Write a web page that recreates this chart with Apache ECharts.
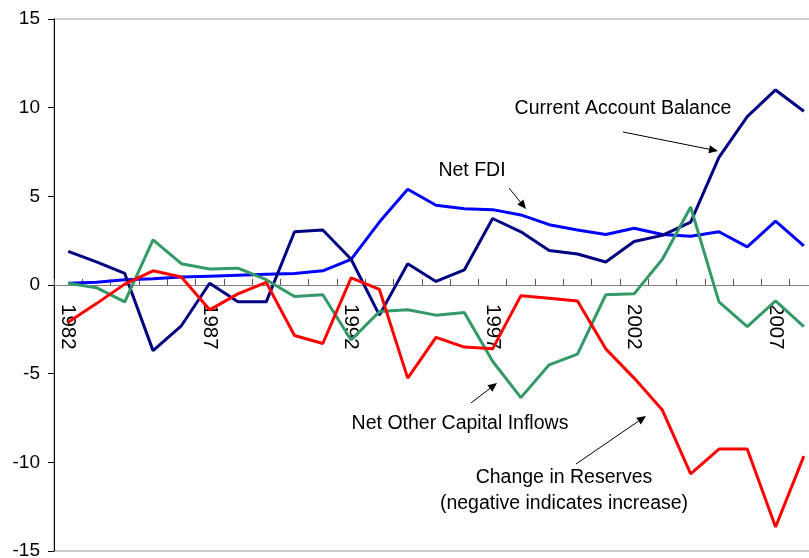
<!DOCTYPE html>
<html>
<head>
<meta charset="utf-8">
<script src="https://cdn.jsdelivr.net/npm/echarts@6/dist/echarts.min.js"></script>
<style>
  html, body { margin: 0; padding: 0; background: #fff; }
  #echart { width: 809px; height: 558px; }
</style>
</head>
<body>
<div id="echart"></div>
<script>
var years = ['1982', '1983', '1984', '1985', '1986', '1987', '1988', '1989', '1990', '1991',
    '1992', '1993', '1994', '1995', '1996', '1997', '1998', '1999', '2000', '2001',
    '2002', '2003', '2004', '2005', '2006', '2007', '2008'];
var currentAccount = [1.9, 1.3, 0.65, -3.7, -2.3, 0.1, -0.95, -0.95, 3.0, 3.1,
    1.45, -1.7, 1.2, 0.2, 0.85, 3.75, 3.0, 1.95, 1.75, 1.3,
    2.45, 2.8, 3.55, 7.2, 9.5, 11.0, 9.8];
var netFDI = [0.1, 0.15, 0.3, 0.35, 0.45, 0.5, 0.55, 0.6, 0.65, 0.8,
    1.45, 3.55, 5.4, 4.5, 4.3, 4.25, 3.95, 3.4, 3.1, 2.85,
    3.2, 2.85, 2.75, 3.0, 2.15, 3.6, 2.2];
var otherCapital = [0.1, -0.15, -0.95, 2.55, 1.2, 0.9, 0.95, 0.3, -0.65, -0.55,
    -3.1, -1.5, -1.4, -1.7, -1.55, -4.3, -6.35, -4.5, -3.9, -0.55,
    -0.5, 1.45, 4.4, -0.95, -2.35, -0.9, -2.35];
var reserves = [-2.1, -1.05, 0.05, 0.8, 0.45, -1.4, -0.5, 0.15, -2.85, -3.3,
    0.4, -0.25, -5.25, -2.95, -3.5, -3.6, -0.6, -0.75, -0.9, -3.6,
    -5.25, -7.05, -10.65, -9.25, -9.25, -13.65, -9.65];
var yMin = -15, yMax = 15, yStep = 5;

var FONT = 'Liberation Sans, Arial, sans-serif';
var plotH = 532;

// 箭头注释
function arrow(x1, y1, x2, y2) {
    var a = Math.atan2(y2 - y1, x2 - x1);
    var len = 9, w = 4;
    var bx = x2 - len * Math.cos(a), by = y2 - len * Math.sin(a);
    var px = -Math.sin(a) * w, py = Math.cos(a) * w;
    return [
        {
            type: 'line', silent: true,
            shape: { x1: x1, y1: y1, x2: bx, y2: by },
            style: { stroke: '#000', lineWidth: 1 }
        },
        {
            type: 'polygon', silent: true,
            shape: { points: [[x2, y2], [bx + px, by + py], [bx - px, by - py]] },
            style: { fill: '#000' }
        }
    ];
}

function label(text, x, y, align) {
    return {
        type: 'text', silent: true, x: x, y: y,
        style: {
            text: text, fill: '#000', font: '19.5px ' + FONT,
            align: align || 'center', verticalAlign: 'middle', lineHeight: 26
        }
    };
}

function line(name, data, color) {
    return {
        name: name, type: 'line', data: data,
        symbol: 'none', smooth: false,
        lineStyle: { color: color, width: 3 },
        itemStyle: { color: color }
    };
}

var myChart = echarts.init(document.getElementById('echart'));

var option = {
    animation: false,
    backgroundColor: '#fff',
    grid: {
        left: 54, top: 19, width: 764, height: plotH,
        outerBoundsMode: 'none', containLabel: false,
        show: true, borderColor: '#999', borderWidth: 1
    },
    xAxis: {
        type: 'category',
        data: years,
        boundaryGap: true,
        position: 'bottom',
        // 横轴放到 0 的位置
        offset: -plotH * (0 - yMin) / (yMax - yMin),
        axisLine: { onZero: false, lineStyle: { color: '#808080', width: 1 } },
        axisTick: { show: true, inside: true, length: 6, interval: 0, lineStyle: { color: '#555' } },
        axisLabel: {
            interval: 4, rotate: -90, margin: 19,
            color: '#000', fontSize: 20.5, fontFamily: FONT
        },
        splitLine: { show: false }
    },
    yAxis: {
        type: 'value',
        min: yMin, max: yMax, interval: yStep,
        axisLine: { show: true, onZero: false, lineStyle: { color: '#000', width: 1 } },
        axisTick: { show: true, length: 6, lineStyle: { color: '#000' } },
        axisLabel: { color: '#000', fontSize: 19, fontFamily: FONT, margin: 14 },
        splitLine: { show: false }
    },
    series: [
        line('Net FDI', netFDI, '#0000FF'),
        line('Current Account Balance', currentAccount, '#000080'),
        line('Net Other Capital Inflows', otherCapital, '#339966'),
        line('Change in Reserves', reserves, '#FF0000')
    ],
    graphic: [].concat(
        [label('Current Account Balance', 623, 109)],
        arrow(623, 132, 718, 151),
        [label('Net FDI', 472, 171)],
        arrow(509, 188, 526, 209),
        [label('Net Other Capital Inflows', 460, 424)],
        arrow(471, 403, 497, 383),
        [label('Change in Reserves\n(negative indicates increase)', 564, 491)],
        arrow(576, 464, 646, 416)
    )
};
myChart.setOption(option);
</script>
</body>
</html>
